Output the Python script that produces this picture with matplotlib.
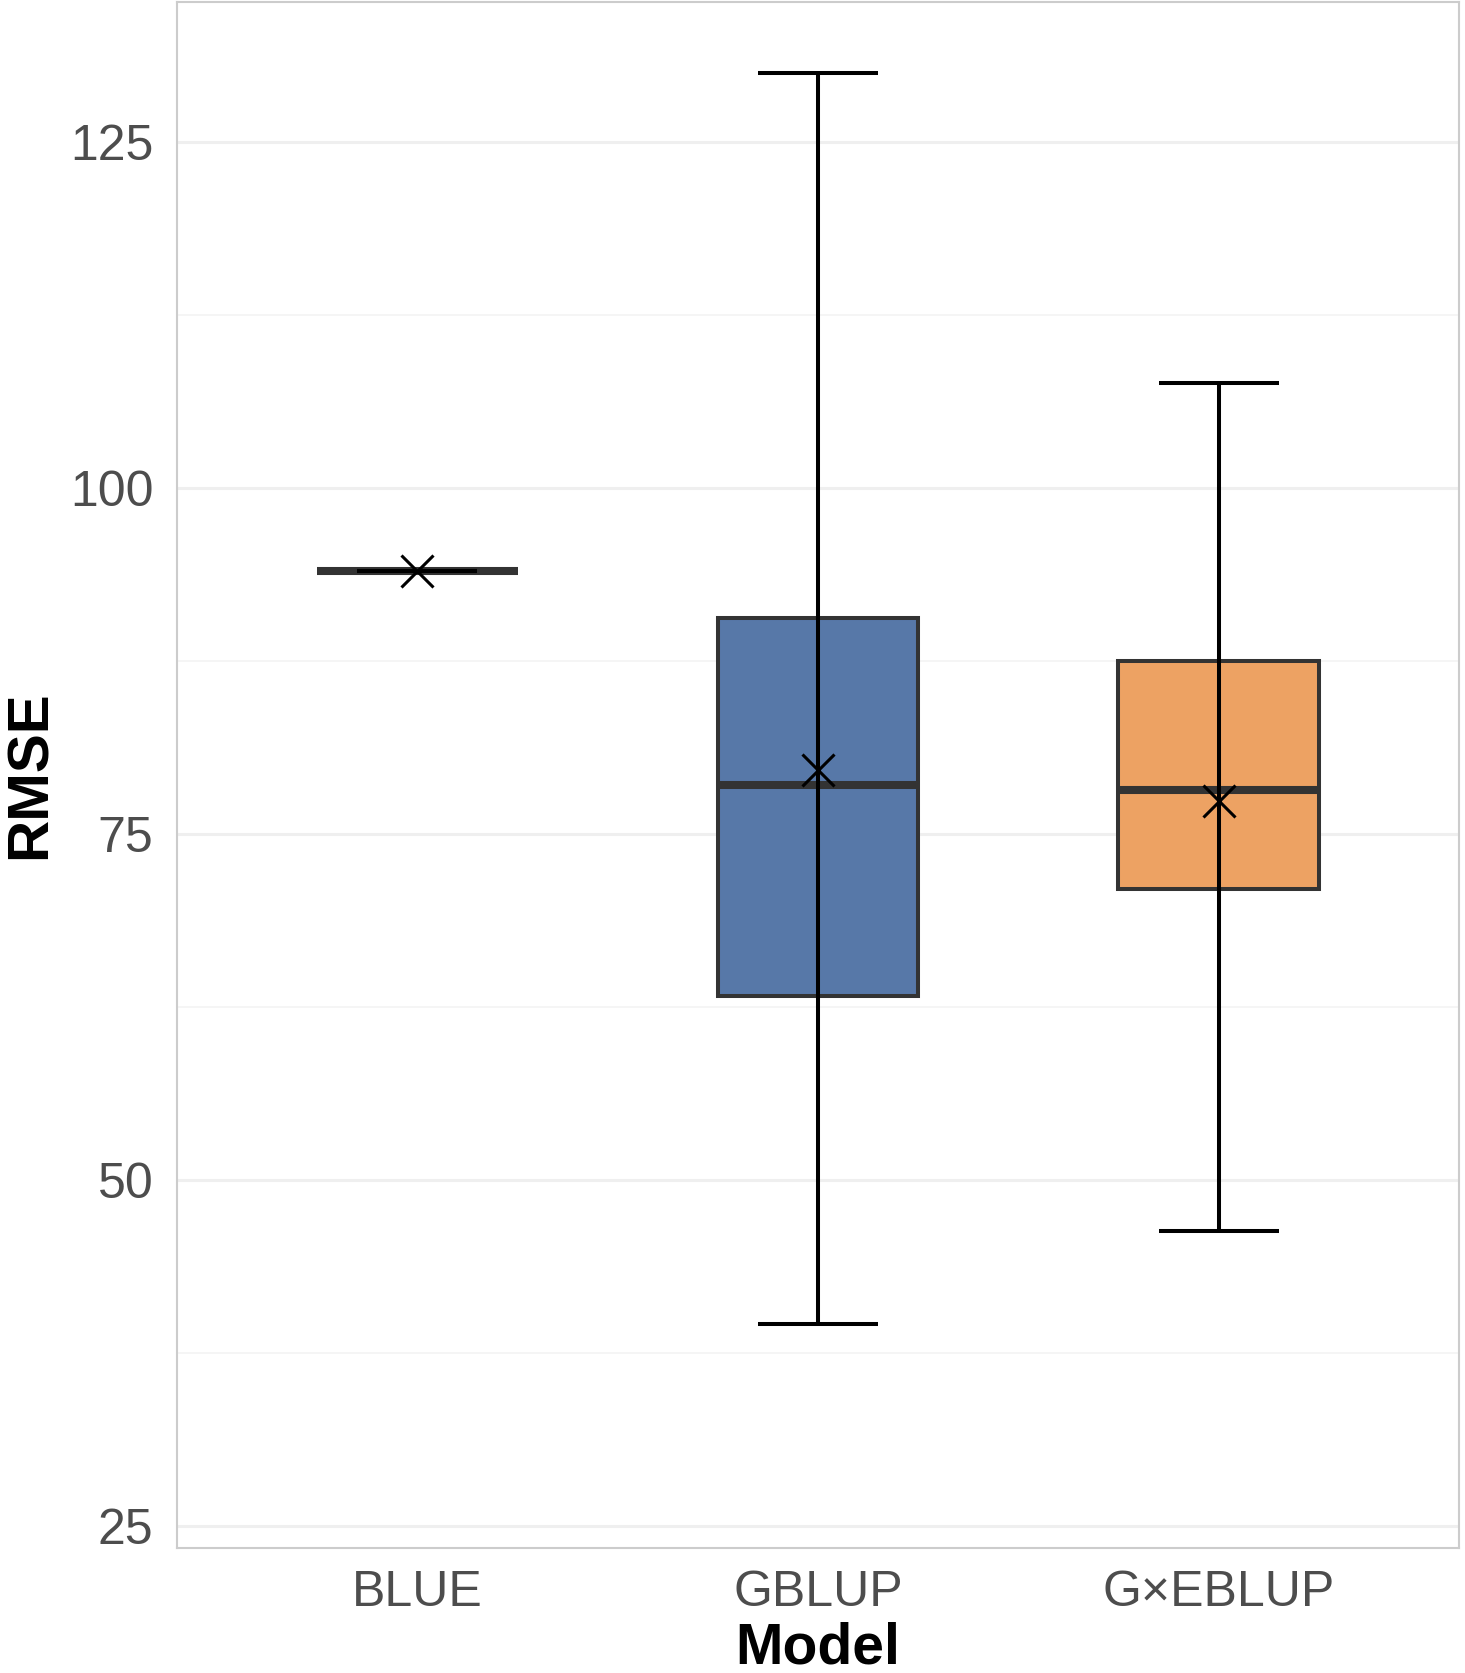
import matplotlib
matplotlib.use("Agg")
import matplotlib.pyplot as plt
import numpy as np

plt.rcParams['font.family'] = ['Liberation Sans', 'DejaVu Sans']

# --- Dane ---
modele = ["BLUE", "GBLUP", "G×EBLUP"]
minimum = [94.0, 39.6, 46.3]
q1 = [94.0, 63.3, 71.0]
mediana = [94.0, 78.5, 78.2]
q3 = [94.0, 90.6, 87.5]
maksimum = [94.0, 130.0, 107.6]
srednia = [94.0, 79.6, 77.4]
kolory = ["#5778A8", "#5778A8", "#EDA263"]

poz = np.arange(1, len(modele) + 1)

fig = plt.figure(figsize=(14.65, 16.73), dpi=100)
ax = fig.add_axes([0.1208, 0.0747, 0.9959 - 0.1208, 0.9988 - 0.0747])

staty = []
for i, m in enumerate(modele):
    staty.append(dict(label=m, med=mediana[i], q1=q1[i], q3=q3[i],
                      whislo=q1[i], whishi=q3[i], fliers=[]))

bp = ax.bxp(staty, positions=poz, widths=0.5, patch_artist=True,
            showcaps=False, showfliers=False,
            boxprops=dict(edgecolor="#333333", linewidth=2.9),
            medianprops=dict(color="#333333", linewidth=5.8, solid_capstyle="butt"),
            whiskerprops=dict(linewidth=0))
for patch, c in zip(bp["boxes"], kolory):
    patch.set_facecolor(c)
    patch.set_zorder(2)
for med in bp["medians"]:
    med.set_zorder(3)

# wasy (min - max) z poprzeczkami
ax.vlines(poz, minimum, maksimum, color="black", linewidth=2.9, zorder=4)
ax.hlines(minimum, poz - 0.15, poz + 0.15, color="black", linewidth=2.9, zorder=4)
ax.hlines(maksimum, poz - 0.15, poz + 0.15, color="black", linewidth=2.9, zorder=4)

# srednia
ax.plot(poz, srednia, linestyle="none", marker="x", markersize=23,
        markeredgewidth=2.2, color="black", zorder=5)

ax.set_xlim(0.4, 3.6)
ax.set_ylim(23.4, 135.1)
ax.set_xticks(poz)
ax.set_xticklabels(modele)
ax.set_yticks([25, 50, 75, 100, 125])
ax.set_yticks([37.5, 62.5, 87.5, 112.5], minor=True)

ax.grid(True, axis="y", which="major", color="#EFEFEF", linewidth=2.2, zorder=0)
ax.grid(True, axis="y", which="minor", color="#F5F5F5", linewidth=1.3, zorder=0)
ax.grid(False, axis="x")
ax.set_axisbelow(True)

for s in ax.spines.values():
    s.set_color("#CCCCCC")
    s.set_linewidth(1.5)

ax.tick_params(axis="both", which="both", length=0, labelsize=36,
               labelcolor="#4D4D4D")
ax.tick_params(axis="x", pad=16)
ax.tick_params(axis="y", pad=17)

ax.set_xlabel("Model", fontsize=41, fontweight="bold", labelpad=4)
ax.set_ylabel("RMSE", fontsize=42, fontweight="bold", labelpad=9)

fig.savefig("out.png", dpi=100)
